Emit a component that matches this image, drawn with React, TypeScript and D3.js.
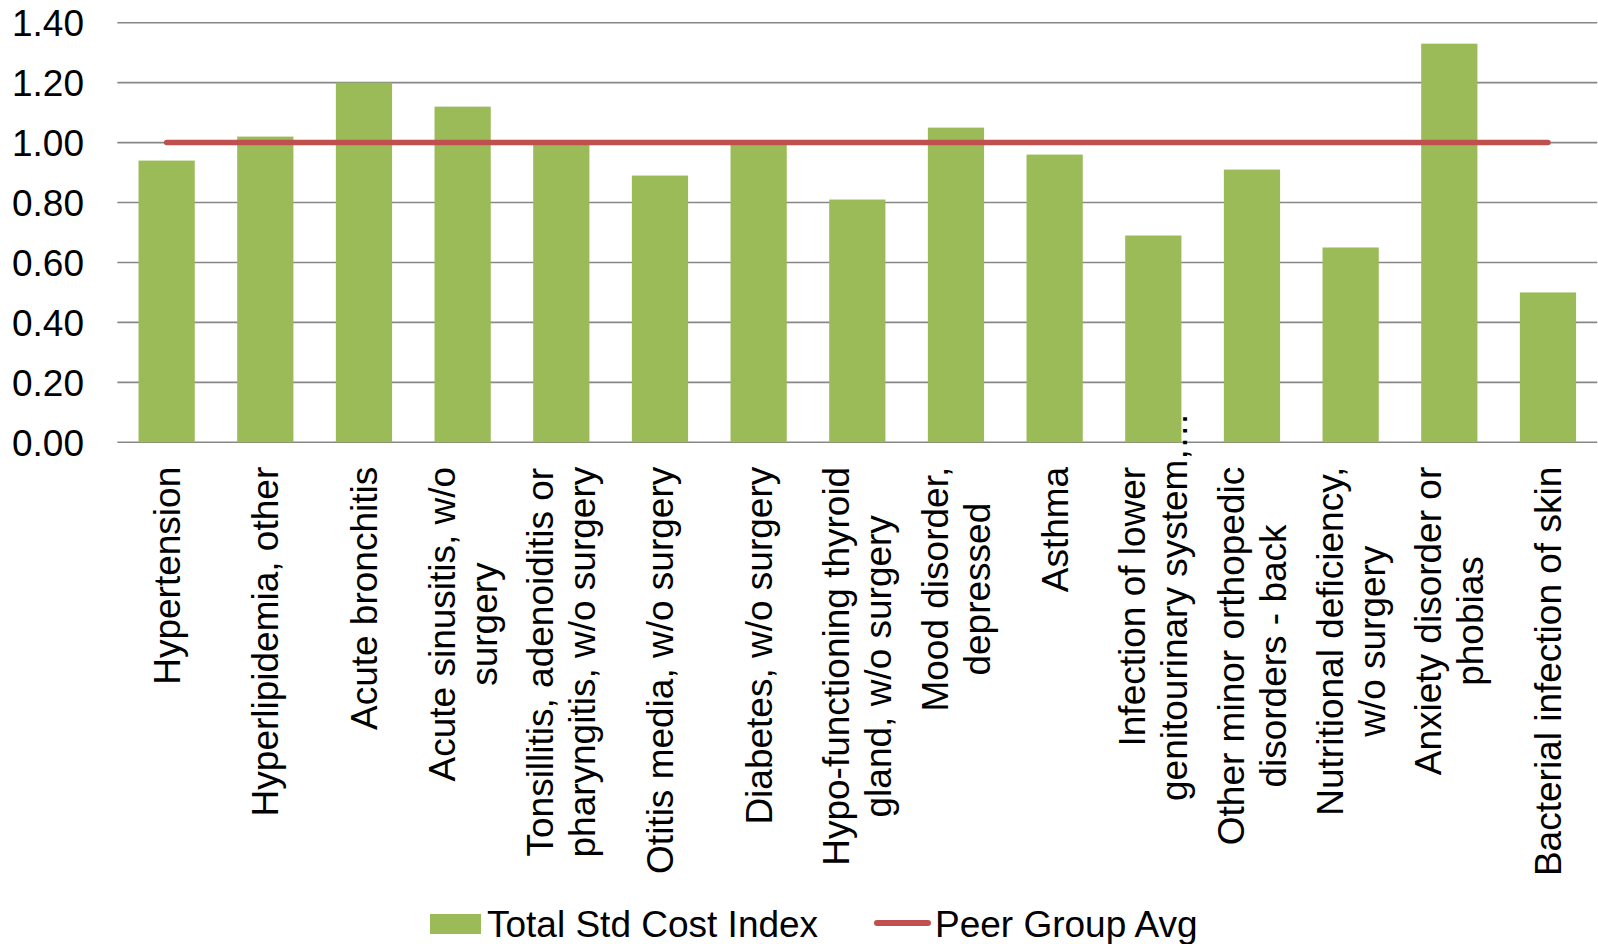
import React from "react";
import * as d3 from "d3";

const categories: string[] = [
  "Hypertension",
  "Hyperlipidemia, other",
  "Acute bronchitis",
  "Acute sinusitis, w/o\nsurgery",
  "Tonsillitis, adenoiditis or\npharyngitis, w/o surgery",
  "Otitis media, w/o surgery",
  "Diabetes, w/o surgery",
  "Hypo-functioning thyroid\ngland, w/o surgery",
  "Mood disorder,\ndepressed",
  "Asthma",
  "Infection of lower\ngenitourinary system,…",
  "Other minor orthopedic\ndisorders - back",
  "Nutritional deficiency,\nw/o surgery",
  "Anxiety disorder or\nphobias",
  "Bacterial infection of skin",
];

const totalStdCostIndex: number[] = [
  0.94, 1.02, 1.2, 1.12, 1.0, 0.89, 1.0, 0.81, 1.05, 0.96, 0.69, 0.91, 0.65, 1.33, 0.5,
];

const peerGroupAvg: number[] = [
  1.0, 1.0, 1.0, 1.0, 1.0, 1.0, 1.0, 1.0, 1.0, 1.0, 1.0, 1.0, 1.0, 1.0, 1.0,
];

const yTicks: number[] = [0, 0.2, 0.4, 0.6, 0.8, 1.0, 1.2, 1.4];

const seriesNames = ["Total Std Cost Index", "Peer Group Avg"];

const W = 1598;
const H = 944;
const FONT = "'Liberation Sans', Arial, sans-serif";
const FS = 37;
const BAR = "#9BBB59";
const RED = "#C0504D";
const GRID = "#878787";

let ctx: CanvasRenderingContext2D | null = null;
function measure(s: string): number {
  if (!ctx) {
    const c = document.createElement("canvas");
    ctx = c.getContext("2d");
  }
  if (!ctx) return s.length * FS * 0.5;
  ctx.font = `${FS}px 'Liberation Sans', Arial, sans-serif`;
  return ctx.measureText(s).width;
}

export default function App() {
  const left = 117.3;
  const right = 1597.3;
  const top = 22.7;
  const bottom = 442.3;

  const x = d3
    .scaleBand<string>()
    .domain(categories)
    .range([left, right])
    .paddingInner(0.43)
    .paddingOuter(0.215);

  const y = d3.scaleLinear().domain([0, 1.4]).range([bottom, top]);

  const line = d3
    .line<number>()
    .x((_, i) => (x(categories[i]) as number) + x.bandwidth() / 2)
    .y((d) => y(d));

  const labelTop = bottom + 24.5;
  const lineH = 42;

  return (
    <svg
      width={W}
      height={H}
      style={{ position: "absolute", left: 0, top: 0, display: "block", background: "#fff" }}
      fontFamily={FONT}
    >
      {yTicks.map((t) => (
        <g key={t}>
          <line x1={left} x2={right} y1={y(t)} y2={y(t)} stroke={GRID} strokeWidth={1.6} />
          <text
            x={84}
            y={y(t)}
            dy="0.36em"
            textAnchor="end"
            fontSize={FS}
            fill="#000"
          >
            {t.toFixed(2)}
          </text>
        </g>
      ))}

      {totalStdCostIndex.map((v, i) => (
        <rect
          key={categories[i]}
          x={x(categories[i])}
          y={y(v)}
          width={x.bandwidth()}
          height={y(0) - y(v)}
          fill={BAR}
        />
      ))}

      <path
        d={line(peerGroupAvg) || ""}
        fill="none"
        stroke={RED}
        strokeWidth={5.5}
        strokeLinecap="round"
      />

      {categories.map((c) => {
        const lines = c.split("\n");
        const normal = lines.filter((l) => !l.endsWith("…"));
        const maxW = d3.max(normal.length ? normal : lines, (l) => measure(l)) || 0;
        const cx = (x(c) as number) + x.bandwidth() / 2;
        const cy = labelTop + maxW / 2;
        const n = lines.length;
        return (
          <g key={c} transform={`translate(${cx},${cy}) rotate(-90)`}>
            {lines.map((l, i) => (
              <text
                key={i}
                x={0}
                y={(i - (n - 1) / 2) * lineH}
                dy="0.35em"
                textAnchor="middle"
                fontSize={FS}
                fill="#000"
              >
                {l}
              </text>
            ))}
          </g>
        );
      })}

      <g>
        <rect x={430} y={914} width={51} height={20} fill={BAR} />
        <text x={487} y={937} fontSize={FS} fill="#000">
          {seriesNames[0]}
        </text>
        <line
          x1={877}
          x2={928}
          y1={923}
          y2={923}
          stroke={RED}
          strokeWidth={6}
          strokeLinecap="round"
        />
        <text x={935} y={937} fontSize={FS} fill="#000">
          {seriesNames[1]}
        </text>
      </g>
    </svg>
  );
}
